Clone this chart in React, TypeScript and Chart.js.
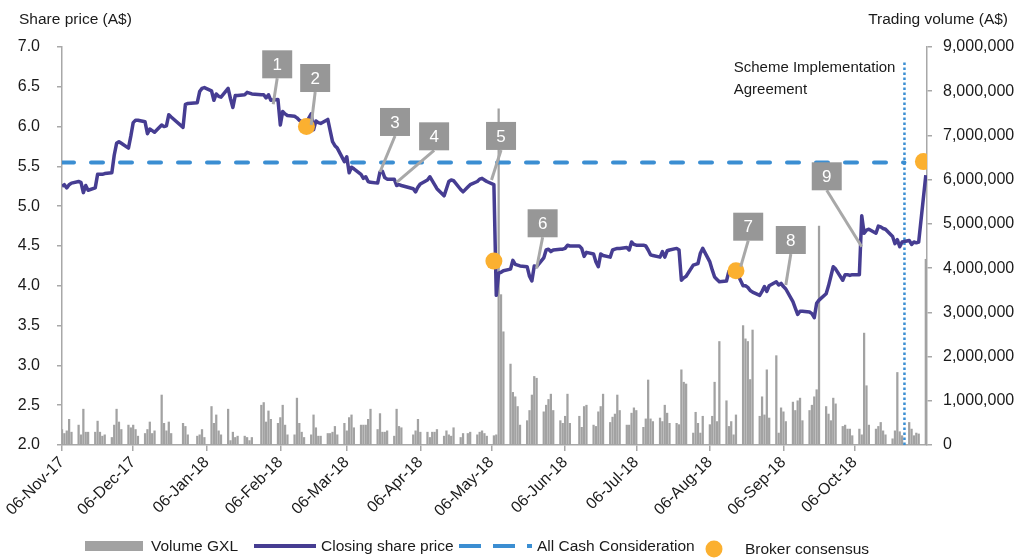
import React, { useEffect, useRef } from 'react';
import { Chart, registerables } from 'chart.js';

Chart.register(...registerables);

// ---------- data ----------
const START_DATE = '2017-11-06';
const END_DATE = '2018-11-05';
const ASX_HOLIDAYS = [
  '2017-12-25', '2017-12-26', '2018-01-01', '2018-01-26',
  '2018-03-30', '2018-04-02', '2018-04-25', '2018-06-11',
];

const X_TICK_DATES = [
  '2017-11-06', '2017-12-06', '2018-01-06', '2018-02-06', '2018-03-06', '2018-04-06',
  '2018-05-06', '2018-06-06', '2018-07-06', '2018-08-06', '2018-09-06', '2018-10-06',
];
const X_TICK_LABELS = [
  '06-Nov-17', '06-Dec-17', '06-Jan-18', '06-Feb-18', '06-Mar-18', '06-Apr-18',
  '06-May-18', '06-Jun-18', '06-Jul-18', '06-Aug-18', '06-Sep-18', '06-Oct-18',
];

// closing share price (A$), one value per trading day
const CLOSE_PRICE = [
  5.25, 5.27, 5.23, 5.27, 5.29,
  5.31, 5.30, 5.17, 5.26, 5.20,
  5.23, 5.40, 5.40, 5.40, 5.41,
  5.42, 5.64, 5.79, 5.81, 5.79,
  5.73, 5.88, 6.05, 6.08, 6.08,
  6.06, 5.91, 5.97, 5.95, 5.93,
  6.02, 6.00, 6.01, 6.15, 6.12,
  5.99, 6.28, 6.29,
  6.30, 6.44, 6.48, 6.49,
  6.45, 6.33, 6.41, 6.38, 6.37,
  6.48, 6.35, 6.24, 6.39, 6.39,
  6.40, 6.43, 6.42, 6.41,
  6.40, 6.40, 6.36, 6.40, 6.33,
  6.34, 6.02, 6.19, 6.16, 6.14,
  6.13, 6.11, 6.08, 6.06, 6.00,
  6.16, 5.96, 6.07, 6.05, 6.04,
  6.09, 5.95, 5.81, 5.76, 5.73,
  5.56, 5.62, 5.42, 5.49, 5.47,
  5.40, 5.35, 5.37, 5.31, 5.30,
  5.29, 5.43, 5.44, 5.36, 5.34,
  5.34, 5.26, 5.27, 5.26,
  5.22, 5.18, 5.24, 5.28,
  5.33, 5.37, 5.32, 5.27, 5.22,
  5.13, 5.22, 5.31, 5.33, 5.32,
  5.21, 5.18, 5.24, 5.27,
  5.31, 5.34, 5.35, 5.33, 5.31,
  5.27, 3.88, 4.16, 4.17, 4.19,
  4.21, 4.32, 4.27, 4.26, 4.25,
  4.24, 4.12, 4.06, 4.25, 4.24,
  4.35, 4.45, 4.46, 4.43, 4.45,
  4.46, 4.46, 4.47, 4.51, 4.50,
  4.50, 4.47, 4.37, 4.42,
  4.40, 4.30, 4.24, 4.40, 4.38,
  4.36, 4.45, 4.46, 4.47, 4.47,
  4.48, 4.45, 4.55, 4.52, 4.51,
  4.51, 4.50, 4.45, 4.39, 4.38,
  4.36, 4.43, 4.36, 4.44, 4.45,
  4.47, 4.45, 4.07, 4.10, 4.12,
  4.26, 4.27, 4.28, 4.41, 4.47,
  4.30, 4.20, 4.11, 4.08, 4.05,
  4.06, 4.18, 4.20, 4.21, 4.19,
  4.00, 4.00, 3.98, 3.94, 3.92,
  3.88, 3.93, 3.99, 3.93, 4.00,
  4.05, 4.01, 4.03, 3.99, 3.96,
  3.80, 3.72, 3.64, 3.68, 3.68,
  3.67, 3.65, 3.60, 3.78, 3.82,
  3.90, 4.00, 4.12, 4.24, 4.21,
  4.07, 4.14, 4.14, 4.13, 4.14,
  4.14, 4.88, 4.66, 4.70, 4.71,
  4.66, 4.75, 4.74, 4.72, 4.71,
  4.62, 4.53, 4.58, 4.49, 4.55,
  4.57, 4.52, 4.55, 4.54, 4.55,
  5.39,
];

// traded volume (A$ millions), one value per trading day
const VOLUME_M = [
  0.35, 0.26, 0.32, 0.58, 0.29,
  0.45, 0.23, 0.81, 0.29, 0.29,
  0.29, 0.54, 0.29, 0.20, 0.23,
  0.17, 0.45, 0.81, 0.52, 0.35,
  0.45, 0.39, 0.45, 0.35, 0.20,
  0.26, 0.35, 0.52, 0.26, 0.32,
  1.13, 0.49, 0.32, 0.52, 0.26,
  0.49, 0.42, 0.23,
  0.20, 0.23, 0.35, 0.17,
  0.87, 0.49, 0.68, 0.32, 0.23,
  0.81, 0.10, 0.29, 0.17, 0.20,
  0.20, 0.17, 0.10, 0.17,
  0.90, 0.96, 0.52, 0.77, 0.58,
  0.49, 0.62, 0.90, 0.45, 0.23,
  0.23, 1.06, 0.49, 0.29, 0.17,
  0.23, 0.68, 0.39, 0.20, 0.20,
  0.26, 0.26, 0.29, 0.42, 0.23,
  0.49, 0.32, 0.62, 0.68, 0.39,
  0.45, 0.45, 0.45, 0.58, 0.81,
  0.35, 0.71, 0.29, 0.29, 0.32,
  0.20, 0.81, 0.42, 0.39,
  0.23, 0.32, 0.58, 0.29,
  0.29, 0.17, 0.29, 0.29, 0.35,
  0.20, 0.32, 0.23, 0.20, 0.39,
  0.17, 0.26, 0.26, 0.29,
  0.23, 0.29, 0.32, 0.26, 0.20,
  0.21, 0.23, 7.60, 3.40, 2.56,
  1.83, 1.19, 1.09, 0.87, 0.45,
  0.55, 0.78, 1.13, 1.55, 1.51,
  0.75, 0.90, 1.03, 1.15, 0.78,
  0.55, 0.49, 0.65, 1.15, 0.49,
  0.65, 0.40, 0.87, 0.90,
  0.45, 0.42, 0.75, 0.87, 1.15,
  0.51, 0.63, 0.70, 1.13, 0.78,
  0.45, 0.45, 0.72, 0.84, 0.78,
  0.40, 0.59, 1.47, 0.59, 0.53,
  0.61, 0.53, 0.90, 0.72, 0.49,
  0.49, 0.46, 1.70, 1.42, 1.38,
  0.27, 0.74, 0.49, 0.27, 0.65,
  0.46, 0.65, 1.42, 0.53, 2.34,
  1.00, 0.42, 0.53, 0.23, 0.68,
  2.70, 2.40, 2.34, 1.48, 2.60,
  0.65, 1.09, 0.68, 1.70, 0.61,
  2.02, 0.27, 0.84, 0.75, 0.53,
  0.97, 0.78, 1.00, 1.06, 0.55,
  0.78, 0.90, 1.09, 1.25, 4.95,
  0.87, 0.70, 0.55, 1.06, 0.93,
  0.42, 0.45, 0.36, 0.36, 0.21,
  0.36, 0.23, 2.53, 1.34, 0.45,
  0.36, 0.42, 0.51, 0.32, 0.23,
  0.14, 0.32, 1.64, 0.30, 0.21,
  0.51, 0.36, 0.21, 0.27, 0.25,
  4.20,
];

const CASH_CONSIDERATION = 5.55;
const SIA_DATE = '2018-10-27';
const SIA_TOP_PRICE = 6.83;
const SIA_LABEL = ['Scheme Implementation', 'Agreement'];

const BROKER_DATES = ['2018-02-17', '2018-05-07', '2018-08-17', '2018-11-04'];
const BROKER_PRICES = [6.0, 4.31, 4.19, 5.56];

const ANNOT_LABELS = ['1', '2', '3', '4', '5', '6', '7', '8', '9'];
const ANNOT_DATES = [
  '2018-02-03', '2018-02-19', '2018-03-20', '2018-03-27', '2018-05-06',
  '2018-05-25', '2018-08-19', '2018-09-07', '2018-10-09',
];
const ANNOT_PRICES = [6.28, 6.02, 5.43, 5.3, 5.33, 4.22, 4.24, 4.01, 4.49];

const LEGEND_LABELS = ['Volume GXL', 'Closing share price', 'All Cash Consideration', 'Broker consensus'];
const Y_TITLE_LEFT = 'Share price (A$)';
const Y_TITLE_RIGHT = 'Trading volume (A$)';

// ---------- styles ----------
const FONT = '"Liberation Sans", Arial, sans-serif';
const TEXT = '#1a1a1a';
const PURPLE = '#463d92';
const BLUE = '#3b8ed2';
const ORANGE = '#fbb030';
const BAR_GREY = '#a2a2a2';
const AXIS_GREY = '#a8a8a8';
const BOX_GREY = '#979797';
const LEADER_GREY = '#a8a8a8';
const X_MAX_PAD_DAYS = 0.5;
// box offsets from annotation tip in px [dx, dy]
const ANNOT_OFFSETS = [
  [4, -40], [4, -47], [15, -50], [37.5, -46], [9.5, -44],
  [6, -45], [7.5, -40], [5, -45], [-35, -70.5],
];

const DAY_MS = 86400000;
const parseUTC = (s: string) => {
  const [y, m, d] = s.split('-').map(Number);
  return Date.UTC(y, m - 1, d);
};
const T0 = parseUTC(START_DATE);
const dayOf = (s: string) => Math.round((parseUTC(s) - T0) / DAY_MS);

function tradingDays(): number[] {
  const out: number[] = [];
  const end = parseUTC(END_DATE);
  const hol = new Set(ASX_HOLIDAYS.map(parseUTC));
  for (let t = T0; t <= end; t += DAY_MS) {
    const wd = new Date(t).getUTCDay();
    if (wd === 0 || wd === 6 || hol.has(t)) continue;
    out.push(Math.round((t - T0) / DAY_MS));
  }
  return out;
}

export default function App() {
  const ref = useRef<HTMLCanvasElement>(null);

  useEffect(() => {
    const days = tradingDays();
    const n = Math.min(days.length, CLOSE_PRICE.length, VOLUME_M.length);
    const priceData = [] as { x: number; y: number }[];
    const volData = [] as { x: number; y: number }[];
    for (let i = 0; i < n; i++) {
      priceData.push({ x: days[i], y: CLOSE_PRICE[i] });
      volData.push({ x: days[i], y: VOLUME_M[i] * 1e6 });
    }
    const siaDay = dayOf(SIA_DATE);
    const tickDays = X_TICK_DATES.map(dayOf);

    const overlay = {
      id: 'overlay',
      afterDatasetsDraw(chart: any) {
        const { ctx, scales } = chart;
        const xs = scales.x;
        const ys = scales.y;
        ctx.save();
        ANNOT_LABELS.forEach((lab, i) => {
          const tx = xs.getPixelForValue(dayOf(ANNOT_DATES[i]));
          const ty = ys.getPixelForValue(ANNOT_PRICES[i]);
          const cx = tx + ANNOT_OFFSETS[i][0];
          const cy = ty + ANNOT_OFFSETS[i][1];
          ctx.strokeStyle = LEADER_GREY;
          ctx.lineWidth = 3;
          ctx.lineCap = 'butt';
          ctx.beginPath();
          ctx.moveTo(cx, cy + 14);
          ctx.lineTo(tx, ty);
          ctx.stroke();
          ctx.fillStyle = BOX_GREY;
          ctx.fillRect(cx - 15, cy - 14, 30, 28);
          ctx.fillStyle = '#ffffff';
          ctx.font = `17px ${FONT}`;
          ctx.textAlign = 'center';
          ctx.textBaseline = 'middle';
          ctx.fillText(lab, cx, cy + 1);
        });
        ctx.restore();
      },
      afterDraw(chart: any) {
        const { ctx, scales } = chart;
        const xs = scales.x;
        ctx.save();
        ctx.fillStyle = TEXT;
        ctx.font = `15.5px ${FONT}`;
        ctx.textBaseline = 'middle';
        ctx.textAlign = 'left';
        ctx.fillText(Y_TITLE_LEFT, 19, 20);
        ctx.textAlign = 'right';
        ctx.fillText(Y_TITLE_RIGHT, 1008, 20);

        // SIA label
        const sx = xs.getPixelForValue(siaDay);
        ctx.font = `15px ${FONT}`;
        const w0 = ctx.measureText(SIA_LABEL[0]).width;
        ctx.textAlign = 'left';
        ctx.fillText(SIA_LABEL[0], sx - 9 - w0, 68);
        ctx.fillText(SIA_LABEL[1], sx - 9 - w0, 90);

        // legend
        ctx.font = `15.5px ${FONT}`;
        const ly = 546;
        ctx.fillStyle = BAR_GREY;
        ctx.fillRect(85, ly - 5, 58, 10);
        ctx.fillStyle = TEXT;
        ctx.textAlign = 'left';
        ctx.fillText(LEGEND_LABELS[0], 151, ly + 1);

        ctx.strokeStyle = PURPLE;
        ctx.lineWidth = 4;
        ctx.beginPath();
        ctx.moveTo(254, ly);
        ctx.lineTo(316, ly);
        ctx.stroke();
        ctx.fillText(LEGEND_LABELS[1], 321, ly + 1);

        ctx.strokeStyle = BLUE;
        ctx.lineWidth = 4;
        ctx.setLineDash([22, 12]);
        ctx.beginPath();
        ctx.moveTo(459, ly);
        ctx.lineTo(532, ly);
        ctx.stroke();
        ctx.setLineDash([]);
        ctx.fillText(LEGEND_LABELS[2], 537, ly + 1);

        ctx.fillStyle = ORANGE;
        ctx.beginPath();
        ctx.arc(714, ly + 3, 8.5, 0, Math.PI * 2);
        ctx.fill();
        ctx.fillStyle = TEXT;
        ctx.fillText(LEGEND_LABELS[3], 745, ly + 4);
        ctx.restore();
      },
    };

    const tickFont = { family: FONT, size: 16 };
    const chart = new Chart(ref.current as HTMLCanvasElement, {
      type: 'line',
      data: {
        datasets: [
          {
            type: 'line',
            label: LEGEND_LABELS[3],
            data: BROKER_DATES.map((d, i) => ({ x: dayOf(d), y: BROKER_PRICES[i] })),
            yAxisID: 'y',
            showLine: false,
            pointRadius: 8.5,
            pointHoverRadius: 8.5,
            pointBackgroundColor: ORANGE,
            pointBorderWidth: 0,
            order: 0,
          },
          {
            type: 'line',
            label: LEGEND_LABELS[1],
            data: priceData,
            yAxisID: 'y',
            borderColor: PURPLE,
            borderWidth: 3.5,
            pointRadius: 0,
            tension: 0,
            borderJoinStyle: 'round',
            order: 1,
          },
          {
            type: 'line',
            label: LEGEND_LABELS[2],
            data: [
              { x: 0, y: CASH_CONSIDERATION },
              { x: siaDay, y: CASH_CONSIDERATION },
            ],
            yAxisID: 'y',
            borderColor: BLUE,
            borderWidth: 4,
            borderDash: [12, 17],
            borderCapStyle: 'round',
            pointRadius: 0,
            order: 2,
          },
          {
            type: 'line',
            label: 'SIA',
            data: [
              { x: siaDay, y: 2 },
              { x: siaDay, y: SIA_TOP_PRICE },
            ],
            yAxisID: 'y',
            borderColor: BLUE,
            borderWidth: 2.5,
            borderDash: [2.5, 2.5],
            pointRadius: 0,
            order: 2,
          },
          {
            type: 'bar',
            label: LEGEND_LABELS[0],
            data: volData,
            yAxisID: 'y1',
            backgroundColor: BAR_GREY,
            barThickness: 1.6,
            order: 3,
          } as any,
        ],
      },
      options: {
        animation: false,
        responsive: true,
        maintainAspectRatio: false,
        layout: { padding: { top: 47, left: 0, right: 0, bottom: 0 } },
        plugins: { legend: { display: false }, tooltip: { enabled: false } },
        events: [],
        scales: {
          x: {
            type: 'linear',
            min: 0,
            max: dayOf(END_DATE) + X_MAX_PAD_DAYS,
            offset: false,
            grid: { drawOnChartArea: false, drawTicks: true, tickLength: 6, color: AXIS_GREY, lineWidth: 1.5, offset: false },
            border: { color: AXIS_GREY, width: 1.5 },
            ticks: {
              autoSkip: false,
              maxRotation: 45,
              minRotation: 45,
              padding: 2,
              font: tickFont,
              color: TEXT,
              callback: (v: any) => {
                const idx = tickDays.indexOf(Number(v));
                return idx >= 0 ? X_TICK_LABELS[idx] : '';
              },
            },
            afterBuildTicks: (s: any) => {
              s.ticks = tickDays.map((d) => ({ value: d }));
            },
            afterFit: (s: any) => {
              s.height = 113;
            },
          },
          y: {
            position: 'left',
            min: 2,
            max: 7,
            grid: { drawOnChartArea: false, drawTicks: true, tickLength: 5, color: AXIS_GREY, lineWidth: 1.5 },
            border: { color: AXIS_GREY, width: 1.5 },
            ticks: {
              stepSize: 0.5,
              padding: 17,
              font: tickFont,
              color: TEXT,
              callback: (v: any) => Number(v).toFixed(1),
            },
            afterFit: (s: any) => {
              s.width = 62;
            },
          },
          y1: {
            position: 'right',
            min: 0,
            max: 9000000,
            grid: { drawOnChartArea: false, drawTicks: true, tickLength: 5, color: AXIS_GREY, lineWidth: 1.5 },
            border: { color: AXIS_GREY, width: 1.5 },
            ticks: {
              stepSize: 1000000,
              padding: 11,
              font: tickFont,
              color: TEXT,
              callback: (v: any) => Number(v).toLocaleString('en-US'),
            },
            afterFit: (s: any) => {
              s.width = 89;
            },
          },
        },
      } as any,
      plugins: [overlay],
    });
    return () => chart.destroy();
  }, []);

  return (
    <div style={{ position: 'fixed', left: 0, top: 0, width: 1016, height: 558, background: '#ffffff' }}>
      <canvas ref={ref} />
    </div>
  );
}
